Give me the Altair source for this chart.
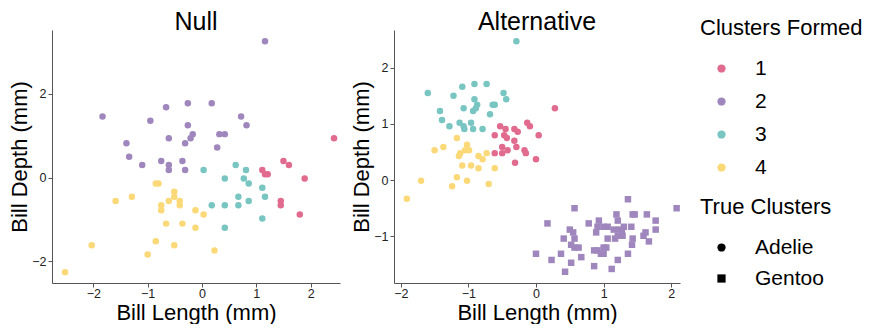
import altair as alt
import pandas as pd

# ---------------- Null panel ----------------
null_purple_x = [1.16, -1.83, -0.26, 0.18, -0.66, -0.95, 0.72, 0.82, -0.26, -1.39, -0.61, -0.17,
                 -0.21, -0.31, 0.32, 0.42, 0.28, -1.34, -1.10, -0.75, -0.61, -0.61, -0.36, -0.31]
null_purple_y = [3.26, 1.46, 1.78, 1.78, 1.68, 1.36, 1.46, 1.25, 1.25, 0.82, 0.94, 1.04,
                 0.94, 0.82, 1.04, 1.04, 0.72, 0.50, 0.30, 0.40, 0.30, 0.18, 0.40, 0.18]
null_teal_x = [0.03, 0.62, 0.81, 0.42, 0.77, 0.86, 1.11, 0.67, 1.16, 0.86, 0.18, 0.42, 0.67, 1.11, 0.42]
null_teal_y = [0.18, 0.30, 0.18, -0.02, -0.02, -0.14, -0.24, -0.46, -0.46, -0.56, -0.66, -0.66, -0.66, -0.98, -1.20]
null_pink_x = [2.43, 1.50, 1.60, 1.11, 1.16, 1.21, 1.89, 1.45, 1.45, 1.80]
null_pink_y = [0.94, 0.40, 0.30, 0.18, 0.08, 0.08, -0.02, -0.56, -0.66, -0.88]
null_yellow_x = [-0.85, -0.80, -1.59, -1.29, -0.51, -0.51, -0.61, -0.41, -0.75, -0.41, -0.75,
                 -0.12, 0.03, -0.66, -0.36, -0.12, -0.85, -0.51, -2.03, -1.00, 0.23, -2.52]
null_yellow_y = [-0.14, -0.14, -0.56, -0.46, -0.34, -0.46, -0.56, -0.56, -0.66, -0.66, -0.78,
                 -0.78, -0.88, -1.10, -1.10, -1.20, -1.52, -1.62, -1.62, -1.84, -1.74, -2.26]

# ---------------- Alternative panel ----------------
alt_teal_x = [-0.29, -1.60, -1.22, -1.09, -0.91, -0.73, -0.48, -0.44, -0.91, -1.42, -1.07, -0.87, -0.89,
              -0.93, -0.64, -0.61, -0.68, -1.39, -1.28, -1.13, -1.07, -1.06, -0.96, -0.93, -0.79]
alt_teal_y = [2.47, 1.55, 1.50, 1.66, 1.71, 1.71, 1.55, 1.44, 1.44, 1.23, 1.28, 1.34, 1.28,
              1.23, 1.34, 1.34, 1.17, 1.07, 0.96, 1.02, 0.96, 0.91, 1.02, 0.91, 0.91]
alt_pink_x = [0.28, -0.53, -0.45, -0.32, -0.27, -0.13, -0.09, -0.61, -0.47, -0.43, 0.04,
              -0.32, -0.50, -0.29, -0.42, -0.17, -0.61, -0.50, -0.15, 0.00, -0.31]
alt_pink_y = [1.28, 0.96, 0.91, 0.91, 0.86, 1.02, 0.96, 0.80, 0.80, 0.75, 0.80,
              0.70, 0.59, 0.59, 0.53, 0.53, 0.48, 0.48, 0.48, 0.37, 0.31]
alt_yellow_x = [-1.17, -1.02, -1.05, -0.99, -1.37, -1.50, -1.14, -1.12, -0.85, -0.73, -0.79,
                -1.09, -0.96, -0.85, -0.61, -1.17, -1.02, -1.24, -1.70, -0.70, -1.91]
alt_yellow_y = [0.75, 0.63, 0.53, 0.53, 0.59, 0.53, 0.43, 0.48, 0.43, 0.48, 0.37,
                0.26, 0.26, 0.21, 0.21, 0.05, -0.01, -0.11, -0.01, -0.07, -0.33]
alt_square_x = [1.36, 0.57, 2.08, 1.19, 1.43, 1.46, 1.64, 0.17, 0.78, 0.93, 1.21, 1.77, 0.50, 0.55,
                0.91, 0.89, 1.00, 1.06, 1.15, 1.24, 1.30, 1.41, 1.77, 0.41, 0.57, 1.06, 1.17, 1.21,
                1.28, 1.27, 1.43, 1.59, 1.62, 0.52, 0.57, 0.63, 1.42, 1.67, 0.86, 0.91, 1.00, 1.04,
                0.00, 0.37, 0.96, 1.00, 1.36, 0.23, 0.67, 1.21, 0.52, 0.86, 1.12, 0.43]
alt_square_y = [-0.34, -0.50, -0.50, -0.61, -0.61, -0.61, -0.61, -0.77, -0.77, -0.72, -0.72, -0.72,
                -0.88, -0.93, -0.83, -0.93, -0.83, -0.83, -0.88, -0.88, -0.83, -0.83, -0.88, -1.04,
                -1.04, -1.04, -1.04, -0.99, -0.99, -0.93, -1.04, -0.99, -0.93, -1.15, -1.20, -1.20,
                -1.15, -1.09, -1.25, -1.25, -1.20, -1.20, -1.31, -1.31, -1.31, -1.31, -1.31, -1.42,
                -1.37, -1.42, -1.47, -1.53, -1.58, -1.63]

cluster_labels = ["1", "2", "3", "4"]
cluster_colors = ["#E16B8E", "#9F86BD", "#79C5C2", "#FCD978"]
species_labels = ["Adelie", "Gentoo"]


def frame(xs, ys, cluster, species):
    return pd.DataFrame({"x": xs, "y": ys, "cluster": [cluster] * len(xs), "species": [species] * len(xs)})


null_df = pd.concat([
    frame(null_pink_x, null_pink_y, "1", "Adelie"),
    frame(null_purple_x, null_purple_y, "2", "Adelie"),
    frame(null_teal_x, null_teal_y, "3", "Adelie"),
    frame(null_yellow_x, null_yellow_y, "4", "Adelie"),
])
alt_df = pd.concat([
    frame(alt_pink_x, alt_pink_y, "1", "Adelie"),
    frame(alt_square_x, alt_square_y, "2", "Gentoo"),
    frame(alt_teal_x, alt_teal_y, "3", "Adelie"),
    frame(alt_yellow_x, alt_yellow_y, "4", "Adelie"),
])

color_enc = alt.Color("cluster:N", title="Clusters Formed",
                      scale=alt.Scale(domain=cluster_labels, range=cluster_colors),
                      legend=alt.Legend(symbolType="circle", orient="none", legendX=648, legendY=-12))
shape_enc = alt.Shape("species:N", title="True Clusters",
                      scale=alt.Scale(domain=species_labels, range=["circle", "square"]),
                      legend=alt.Legend(symbolFillColor="black", symbolStrokeColor="black",
                                        orient="none", legendX=648, legendY=167, rowPadding=9))


def panel(df, title, xdom, ydom, xticks, yticks, w, h):
    return alt.Chart(df, title=alt.Title(title)).mark_point(filled=True, opacity=1, size=42).encode(
        x=alt.X("x:Q", title="Bill Length (mm)",
                scale=alt.Scale(domain=xdom, nice=False, zero=False),
                axis=alt.Axis(values=xticks)),
        y=alt.Y("y:Q", title="Bill Depth (mm)",
                scale=alt.Scale(domain=ydom, nice=False, zero=False),
                axis=alt.Axis(values=yticks)),
        color=color_enc,
        shape=shape_enc,
    ).properties(width=w, height=h)


left = panel(null_df, "Null", [-2.76, 2.54], [-2.52, 3.53], [-2, -1, 0, 1, 2], [-2, 0, 2], 288, 253)
right = panel(alt_df, "Alternative", [-2.10, 2.13], [-1.83, 2.67], [-2, -1, 0, 1, 2], [-1, 0, 1, 2], 286, 253)

chart = alt.hconcat(left, right, spacing=10).properties(
    padding={"left": 0, "top": 2, "right": 0, "bottom": 0}
).configure(
    font="Liberation Sans",
).configure_view(
    stroke=None,
).configure_title(
    fontSize=25, fontWeight="normal", color="black", anchor="middle", offset=-5,
).configure_axis(
    grid=False,
    domainColor="#555555",
    domainWidth=1,
    tickColor="#555555",
    tickSize=4,
    labelFontSize=12.5,
    labelColor="#222222",
    labelPadding=2,
    titleFontSize=22,
    titleFontWeight="normal",
    titleColor="black",
    titlePadding=0,
).configure_axisX(
    labelPadding=0,
    titlePadding=3,
).configure_legend(
    titleFontSize=22,
    titleFontWeight="normal",
    titleColor="black",
    labelFontSize=21,
    labelColor="black",
    symbolSize=68,
    symbolStrokeWidth=0,
    symbolOffset=11,
    rowPadding=11,
    titlePadding=18,
    labelOffset=23,
    padding=0,
)

chart.save("out.html", embed_options={"renderer": "svg", "actions": False})
